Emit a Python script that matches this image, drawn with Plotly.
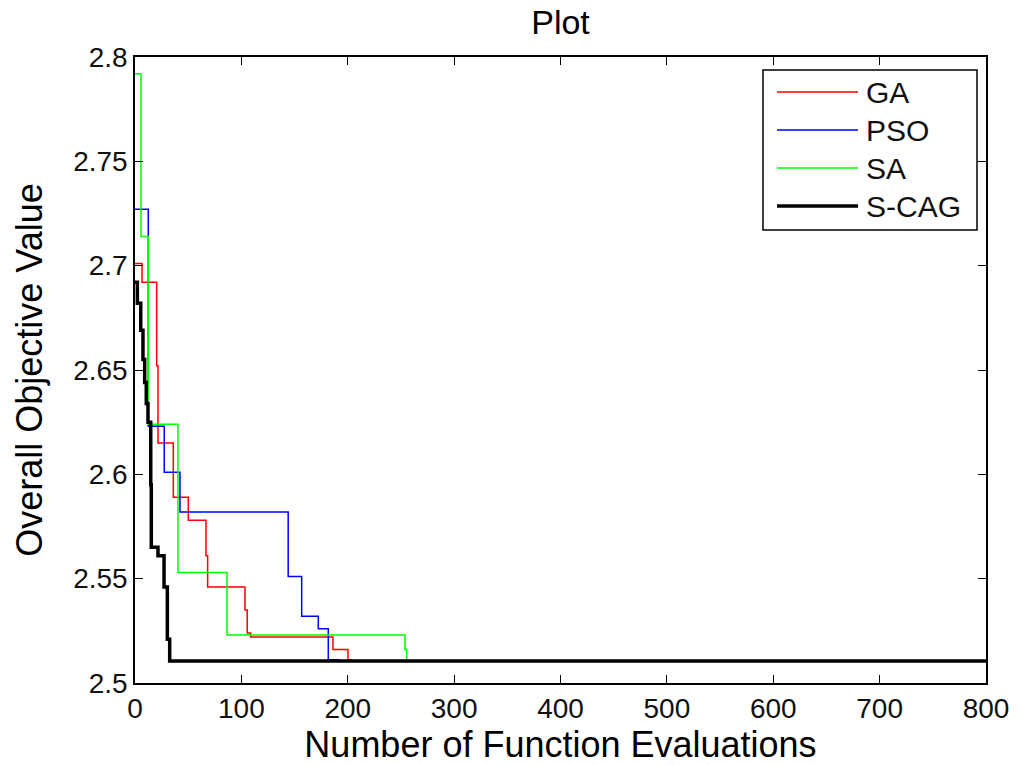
import plotly.graph_objects as go

# Convergence histories: best objective value found vs. function evaluations
ga_x = [0, 6.6, 20.4, 21.6, 36, 50.1, 66.7, 68.3, 103.4, 105.5, 108.7, 186.1, 200.2, 203.7, 205]
ga_y = [2.701, 2.692, 2.652, 2.615, 2.589, 2.578, 2.561, 2.546, 2.535, 2.524, 2.522, 2.516, 2.5112, 2.5108, 2.5108]

pso_x = [0, 12.5, 27.5, 42.3, 144, 156.7, 172.3, 181.7, 192.7]
pso_y = [2.727, 2.623, 2.601, 2.582, 2.551, 2.532, 2.526, 2.5112, 2.5112]

sa_x = [0, 5.6, 12.5, 40.4, 86.5, 253.8, 255.4, 256]
sa_y = [2.792, 2.714, 2.624, 2.553, 2.523, 2.516, 2.511, 2.511]

scag_x = [0, 2.2, 5.4, 7.5, 9.1, 10.6, 12.2, 14.8, 15.3, 21.6, 27.3, 30.4, 32.6, 800]
scag_y = [2.692, 2.682, 2.669, 2.655, 2.644, 2.634, 2.625, 2.595, 2.565, 2.561, 2.546, 2.521, 2.5105, 2.5105]

series = [
    ("GA", ga_x, ga_y, "#ff0000", 1.5),
    ("PSO", pso_x, pso_y, "#0000ff", 1.5),
    ("SA", sa_x, sa_y, "#00ff00", 1.5),
    ("S-CAG", scag_x, scag_y, "#000000", 3.5),
]

FONT = "Liberation Sans, Arial, sans-serif"
W, H = 1023, 765
M_L, M_R, M_T, M_B = 135, 37, 57, 82
PLOT_W, PLOT_H = W - M_L - M_R, H - M_T - M_B


def px_to_paper(px, py):
    """Pixel position in the figure -> paper coordinates of the plot area."""
    return (px - M_L) / PLOT_W, (H - M_B - py) / PLOT_H


fig = go.Figure()
for name, xs, ys, color, width in series:
    fig.add_trace(go.Scatter(
        x=xs, y=ys, name=name, mode="lines", showlegend=False,
        line=dict(color=color, width=width, shape="hv"),
    ))

# Boxed legend in the upper-right corner, with long line samples
shapes, annotations = [], []
bx0, by0 = px_to_paper(763, 230)
bx1, by1 = px_to_paper(977, 70)
shapes.append(dict(type="rect", xref="paper", yref="paper", x0=bx0, y0=by0, x1=bx1, y1=by1,
                   line=dict(color="#000000", width=1.5), fillcolor="white", layer="above"))
row_y = [92, 130, 168, 206]
for (name, _, _, color, width), ry in zip(series, row_y):
    lx0, ly = px_to_paper(777, ry)
    lx1, _ = px_to_paper(858, ry)
    tx, _ = px_to_paper(864, ry)
    shapes.append(dict(type="line", xref="paper", yref="paper", x0=lx0, x1=lx1, y0=ly, y1=ly,
                       line=dict(color=color, width=width), layer="above"))
    annotations.append(dict(text=name, xref="paper", yref="paper", x=tx, y=ly,
                            xanchor="left", yanchor="middle", showarrow=False,
                            font=dict(family=FONT, size=30, color="#111111")))

axis_style = dict(
    showline=True, linecolor="#000000", linewidth=1.5, mirror="ticks",
    ticks="inside", ticklen=8, tickwidth=1.3, tickcolor="#000000",
    showgrid=False, zeroline=False,
    tickfont=dict(family=FONT, size=28, color="#111111"),
)

fig.update_layout(
    width=W, height=H,
    margin=dict(l=M_L, r=M_R, t=M_T, b=M_B),
    paper_bgcolor="white", plot_bgcolor="white",
    title=dict(text="Plot", x=0.5, xref="paper", y=1 - 22 / H, yanchor="middle",
               font=dict(family=FONT, size=34, color="#000000")),
    xaxis=dict(range=[0, 800], dtick=100, tick0=0,
               title=dict(text="Number of Function Evaluations", standoff=2,
                          font=dict(family=FONT, size=36, color="#000000")),
               **axis_style),
    yaxis=dict(range=[2.5, 2.8], dtick=0.05, tick0=2.5,
               title=dict(text="Overall Objective Value", standoff=20,
                          font=dict(family=FONT, size=36, color="#000000")),
               **axis_style),
    shapes=shapes,
    annotations=annotations,
    showlegend=False,
)

fig.write_html("out.html")
